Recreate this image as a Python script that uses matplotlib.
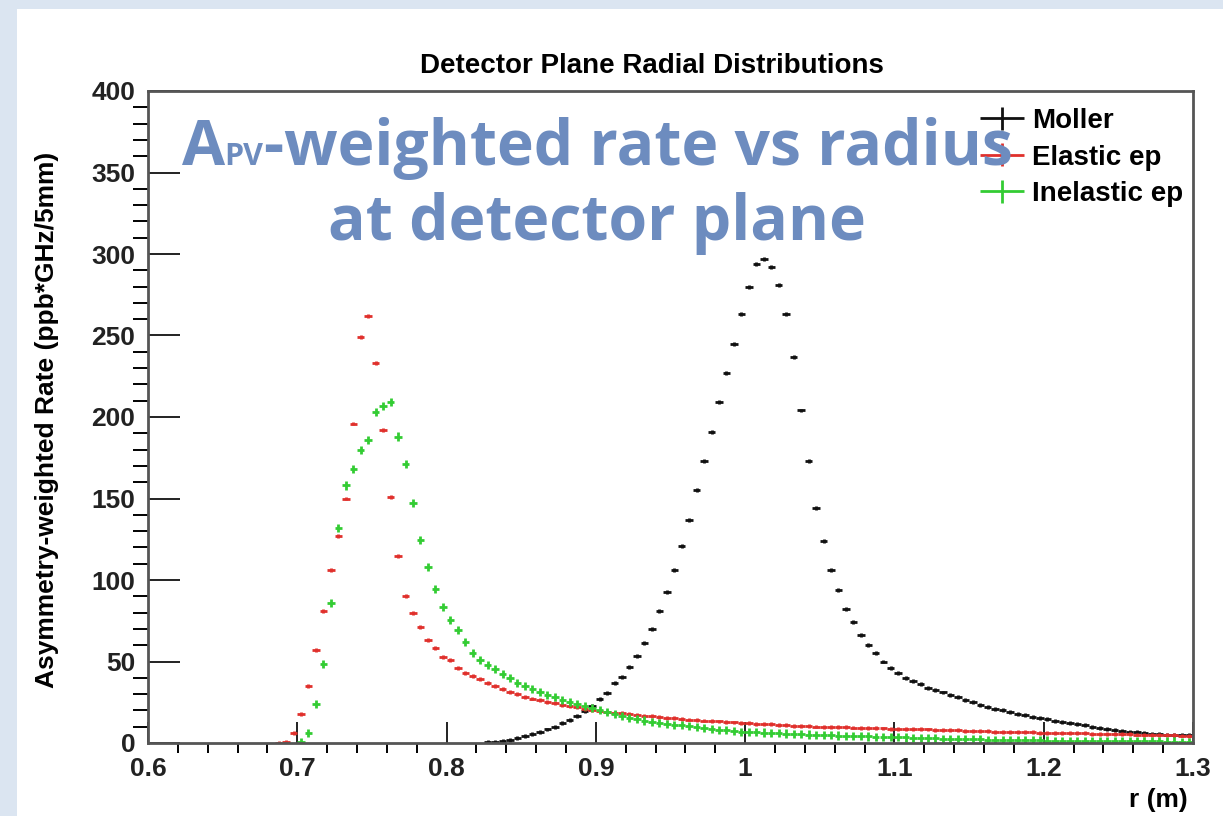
import numpy as np
import matplotlib
matplotlib.use('Agg')
import matplotlib.pyplot as plt
from matplotlib.patches import Rectangle
from matplotlib.ticker import MultipleLocator, FuncFormatter
from matplotlib.offsetbox import TextArea, HPacker, AnnotationBbox
from matplotlib.legend_handler import HandlerErrorbar
from matplotlib.container import ErrorbarContainer

# 5 mm bins, values at each bin centre
bin_width = 0.005

moller_start = 0.8275
moller = [0.5, 0.8, 1.2, 2.0, 3.0, 4.2, 5.4, 6.8, 8.3, 10.0,
          12.0, 14.2, 16.8, 19.6, 23.0, 26.8, 30.5, 36.6, 40.3, 46.8,
          53.6, 61.5, 69.9, 80.9, 92.8, 106, 121, 137, 155, 173,
          191, 209, 227, 245, 263, 280, 294, 297, 292, 281,
          263, 237, 204, 173, 144, 124, 106, 94, 82, 74,
          66, 60, 55, 50, 46, 43, 40, 38, 36, 34,
          32.5, 31, 29.5, 28, 26.5, 25, 23.5, 22.3, 21, 20,
          19, 18, 17, 16, 15.3, 14.5, 13.7, 13, 12.3, 11.5,
          10.8, 10, 9.4, 8.8, 8, 7.5, 7, 6.5, 6.1, 5.8,
          5.5, 5.2, 5.0, 4.9, 4.8]

elastic_start = 0.6875
elastic = [0.3, 0.8, 6, 18, 35, 57, 81, 106, 127, 150,
           196, 249, 262, 233, 192, 151, 115, 90, 80, 71,
           63, 58.5, 53, 51, 46, 43, 41, 39, 36.8, 34.8,
           33, 31.5, 30, 28.5, 27.3, 26.2, 25.2, 24.3, 23.4, 22.6,
           21.8, 21.1, 20.4, 19.8, 19.2, 18.7, 18.2, 17.7, 17.2, 16.8,
           16.4, 16.0, 15.6, 15.2, 14.8, 14.4, 14.1, 13.8, 13.5, 13.2,
           12.9, 12.6, 12.3, 12.0, 11.8, 11.6, 11.4, 11.2, 11.0, 10.7,
           10.4, 10.3, 10.1, 10.0, 9.9, 9.8, 9.6, 9.5, 9.4, 9.2,
           9.1, 8.9, 8.8, 8.7, 8.6, 8.5, 8.4, 8.3, 8.2, 8.1,
           8.0, 7.8, 7.6, 7.4, 7.2, 7.1, 7.0, 6.9, 6.8, 6.7,
           6.6, 6.5, 6.4, 6.3, 6.3, 6.2, 6.1, 6.0, 5.9, 5.8,
           5.7, 5.6, 5.5, 5.4, 5.3, 5.2, 5.1, 5.0, 4.9, 4.8,
           4.7, 4.6, 4.5]

inelastic_start = 0.7025
inelastic = [0.5, 6.3, 24, 48.5, 86, 132, 158, 168, 180, 186,
             203, 207, 209, 188, 171, 147, 124.5, 108, 94.3, 83.2,
             75.4, 69.5, 62, 55, 51, 48, 45.5, 42.5, 40, 37,
             35, 33.3, 31.3, 29.4, 28, 26.5, 25.2, 24, 22.7, 21.5,
             20, 18.8, 17.6, 16.5, 15.4, 14.6, 13.8, 13.1, 12.5, 11.9,
             11.3, 10.8, 10.2, 9.7, 9.1, 8.7, 8.2, 7.8, 7.4, 7.0,
             6.8, 6.6, 6.4, 6.2, 6.0, 5.8, 5.6, 5.4, 5.2, 5.0,
             4.9, 4.7, 4.6, 4.4, 4.3, 4.2, 4.0, 3.9, 3.8, 3.6,
             3.5, 3.4, 3.2, 3.1, 3.0, 2.8, 2.7, 2.6, 2.5, 2.4,
             2.3, 2.2, 2.1, 2.0, 1.9, 1.8, 1.75, 1.7, 1.6, 1.55,
             1.5, 1.45, 1.4, 1.35, 1.3, 1.3, 1.25, 1.2, 1.2, 1.15,
             1.1, 1.1, 1.05, 1.0, 1.0, 0.95, 0.9, 0.9, 0.85, 0.8]

series = [('Moller', moller_start, moller, '#111111', 1.2),
          ('Elastic ep', elastic_start, elastic, '#e0302c', 1.2),
          ('Inelastic ep', inelastic_start, inelastic, '#33cc33', 2.5)]

W, H = 1223, 816
fig = plt.figure(figsize=(W / 100, H / 100), dpi=100)
fig.patch.set_facecolor('#dbe5f1')
# white slide panel
fig.add_artist(Rectangle((17 / W, 0), 1, (H - 9) / H, transform=fig.transFigure,
                         facecolor='white', edgecolor='none', zorder=-5))

ax = fig.add_axes([148 / W, (H - 743) / H, 1045 / W, 652 / H])
ax.set_zorder(1)
ax.set_facecolor('white')

rfont = dict(family='Liberation Sans', weight='bold')

handles = []
for name, start, vals, col, err in series:
    r = start + bin_width * np.arange(len(vals))
    h = ax.errorbar(r, vals, xerr=bin_width / 2, yerr=err, fmt='none',
                    ecolor=col, elinewidth=2.0, capsize=0, label=name)
    handles.append(h)

ax.set_xlim(0.6, 1.3)
ax.set_ylim(0, 400)
ax.xaxis.set_major_locator(MultipleLocator(0.1))
ax.xaxis.set_minor_locator(MultipleLocator(0.02))
ax.yaxis.set_major_locator(MultipleLocator(50))
ax.yaxis.set_minor_locator(MultipleLocator(10))
ax.xaxis.set_major_formatter(FuncFormatter(lambda v, p: '%g' % round(v, 2)))

# ROOT style: ticks inside, only on left and bottom
ax.tick_params(direction='in', top=False, right=False, colors='#222222', width=1.4,
               labelsize=19)
ax.tick_params(axis='y', which='major', length=23, pad=9)
ax.tick_params(axis='y', which='minor', length=11, width=1.4)
ax.tick_params(axis='x', which='major', length=15, pad=10)
ax.tick_params(axis='x', which='minor', length=7, width=1.4)
for lab in ax.get_xticklabels() + ax.get_yticklabels():
    lab.set_fontproperties(dict(family='Liberation Sans', weight='bold', size=19))
for s in ax.spines.values():
    s.set_color('#555555')
    s.set_linewidth(2)

ax.set_ylabel('Asymmetry-weighted Rate (ppb*GHz/5mm)', fontsize=19, va='center', **rfont)
ax.yaxis.set_label_coords(-0.0967, 0.495)
ax.set_xlabel('r (m)', fontsize=19, ha='right', va='center', **rfont)
ax.xaxis.set_label_coords(0.995, -0.087)

fig.text(652 / W, 1 - 66 / H, 'Detector Plane Radial Distributions', ha='center',
         va='center', fontsize=20, **rfont)

ax.legend(handles=handles, loc='upper left', bbox_to_anchor=(0.796, 0.974),
          frameon=False, borderpad=0, borderaxespad=0, handlelength=1.6,
          handletextpad=0.28, labelspacing=0.38,
          handler_map={ErrorbarContainer: HandlerErrorbar(xerr_size=0.8, yerr_size=0.42)},
          prop=dict(family='Liberation Sans', weight='bold', size=20))

# slide overlay text
blue = '#6d8cbf'
big = dict(color=blue, family='Open Sans', weight='bold', size=45)
small = dict(color=blue, family='Open Sans', weight='bold', size=22)
line1 = HPacker(children=[TextArea('A', textprops=big),
                          TextArea('PV', textprops=small),
                          TextArea('-weighted rate vs radius', textprops=big)],
                align='baseline', pad=0, sep=0)
ab = AnnotationBbox(line1, (597 / W, 1 - 180 / H), xycoords='figure fraction',
                    box_alignment=(0.5, 0), frameon=False, pad=0, zorder=10)
fig.add_artist(ab)
fig.text(597 / W, 1 - 240 / H, 'at detector plane', ha='center', va='baseline',
         zorder=10, **big)

fig.savefig('out.png', dpi=100)
